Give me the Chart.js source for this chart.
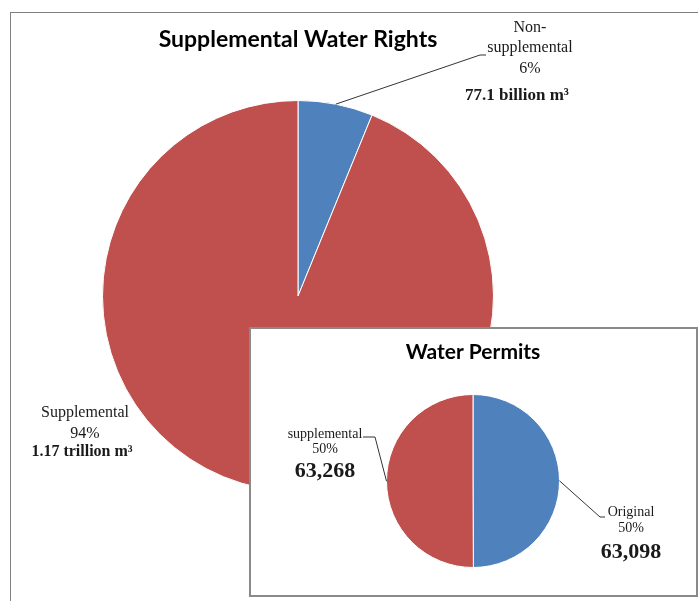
<!DOCTYPE html>
<html>
<head>
<meta charset="utf-8">
<script src="https://cdn.jsdelivr.net/npm/chart.js"></script>
<style>
    body { margin: 0; background: #fff; }
    #wrap { position: relative; width: 698px; height: 601px; overflow: hidden; }
    canvas { position: absolute; left: 0; top: 0; }
    #frame { position: absolute; left: 10px; top: 12px; width: 700px; height: 600px;
             border-top: 1px solid #808080; border-left: 1px solid #808080; }
    #inset { position: absolute; left: 249px; top: 327px; width: 445px; height: 266px;
             background: #fff; border: 2px solid #8a8a8a; }
</style>
</head>
<body>
<div id="wrap">
    <div id="frame"></div>
    <canvas id="rightsChart" width="698" height="601"></canvas>
    <div id="inset"></div>
    <canvas id="permitsChart" width="698" height="601"></canvas>
</div>
<script>
// Supplemental water rights (billion m3)
const rightsNames = [['Non-', 'supplemental'], ['Supplemental']];
const rightsValues = [77.1, 1170];
const rightsVolume = ['77.1 billion m\u00B3', '1.17 trillion m\u00B3'];

// Water permits (count)
const permitNames = [['Original'], ['supplemental']];
const permitValues = [63098, 63268];

const sliceColors = ['#4F81BD', '#C0504D'];
const serif = '"Liberation Serif", "Times New Roman", serif';

function percents(values) {
    let total = values.reduce((a, b) => a + b, 0);
    return values.map(v => Math.round(v / total * 100) + '%');
}

let rightsPct = percents(rightsValues);
let permitPct = percents(permitValues);

// label layout per chart, offsets from the pie centre
// (kept outside the chart options so Chart.js doesn't proxy them)
const labelLayout = {
    rightsChart: [
        {
            dx: 232, elbow: [182, -241, 188],
            lines: [
                { text: rightsNames[0][0], size: 16, dy: -268, shift: 0 },
                { text: rightsNames[0][1], size: 16, dy: -248, shift: 0 },
                { text: rightsPct[0], size: 16, dy: -227, shift: 0 },
                { text: rightsVolume[0], size: 17, bold: true, dy: -200, shift: -13 }
            ]
        },
        {
            dx: -213, elbow: null,
            lines: [
                { text: rightsNames[1][0], size: 16, dy: 117, shift: 0 },
                { text: rightsPct[1], size: 16, dy: 138, shift: 0 },
                { text: rightsVolume[1], size: 16, bold: true, dy: 156, shift: -3 }
            ]
        }
    ],
    permitsChart: [
        {
            dx: 158, elbow: [127, 36, 132],
            lines: [
                { text: permitNames[0][0], size: 14, dy: 31, shift: 0 },
                { text: permitPct[0], size: 14, dy: 47, shift: 0 },
                { text: permitValues[0].toLocaleString('en-US'), size: 22, bold: true, dy: 71, shift: 0 }
            ]
        },
        {
            dx: -148, elbow: [-98, -44, -110],
            lines: [
                { text: permitNames[1][0], size: 14, dy: -47, shift: 0 },
                { text: permitPct[1], size: 14, dy: -32, shift: 0 },
                { text: permitValues[1].toLocaleString('en-US'), size: 22, bold: true, dy: -10, shift: 0 }
            ]
        }
    ]
};

// draws the data labels and leader lines next to each slice
const sliceLabels = {
    id: 'sliceLabels',
    afterDatasetsDraw(chart) {
        const ctx = chart.ctx;
        const meta = chart.getDatasetMeta(0);
        const items = labelLayout[chart.canvas.id] || [];
        items.forEach((item, i) => {
            const arc = meta.data[i];
            const cx = arc.x, cy = arc.y, r = arc.outerRadius;
            const mid = (arc.startAngle + arc.endAngle) / 2;
            ctx.save();
            if (item.elbow) {
                ctx.beginPath();
                ctx.moveTo(cx + Math.cos(mid) * r, cy + Math.sin(mid) * r);
                ctx.lineTo(cx + item.elbow[0], cy + item.elbow[1]);
                ctx.lineTo(cx + item.elbow[2], cy + item.elbow[1]);
                ctx.strokeStyle = '#333';
                ctx.lineWidth = 1;
                ctx.stroke();
            }
            ctx.textAlign = 'center';
            ctx.textBaseline = 'middle';
            ctx.fillStyle = '#1a1a1a';
            item.lines.forEach(line => {
                ctx.font = (line.bold ? 'bold ' : '') + line.size + 'px ' + serif;
                ctx.fillText(line.text, cx + item.dx + line.shift, cy + line.dy);
            });
            ctx.restore();
        });
    }
};

Chart.register(sliceLabels);

let rightsChart = new Chart(document.getElementById('rightsChart'), {
    type: 'pie',
    data: {
        labels: rightsNames.map(n => n.join('')),
        datasets: [{
            data: rightsValues,
            backgroundColor: sliceColors,
            borderColor: '#fff',
            borderWidth: 1
        }]
    },
    options: {
        responsive: false,
        animation: false,
        layout: { padding: { left: 102, right: 204, top: 0, bottom: 109 } },
        plugins: {
            legend: { display: false },
            tooltip: { enabled: false },
            title: {
                display: true,
                text: 'Supplemental Water Rights',
                color: '#000',
                font: { family: 'Lato', size: 23, weight: 'bold', lineHeight: 1.2 },
                padding: { top: 26.2, bottom: 46.2 }
            }
        }
    }
});

let permitsChart = new Chart(document.getElementById('permitsChart'), {
    type: 'pie',
    data: {
        labels: permitNames.map(n => n.join('')),
        datasets: [{
            data: permitValues,
            backgroundColor: sliceColors,
            borderColor: '#fff',
            borderWidth: 1
        }]
    },
    options: {
        responsive: false,
        animation: false,
        layout: { padding: { left: 386, right: 138, top: 0, bottom: 33 } },
        plugins: {
            legend: { display: false },
            tooltip: { enabled: false },
            title: {
                display: true,
                text: 'Water Permits',
                color: '#000',
                font: { family: 'Lato', size: 21, weight: 'bold', lineHeight: 1.2 },
                padding: { top: 339.4, bottom: 29.4 }
            }
        }
    }
});
</script>
</body>
</html>
